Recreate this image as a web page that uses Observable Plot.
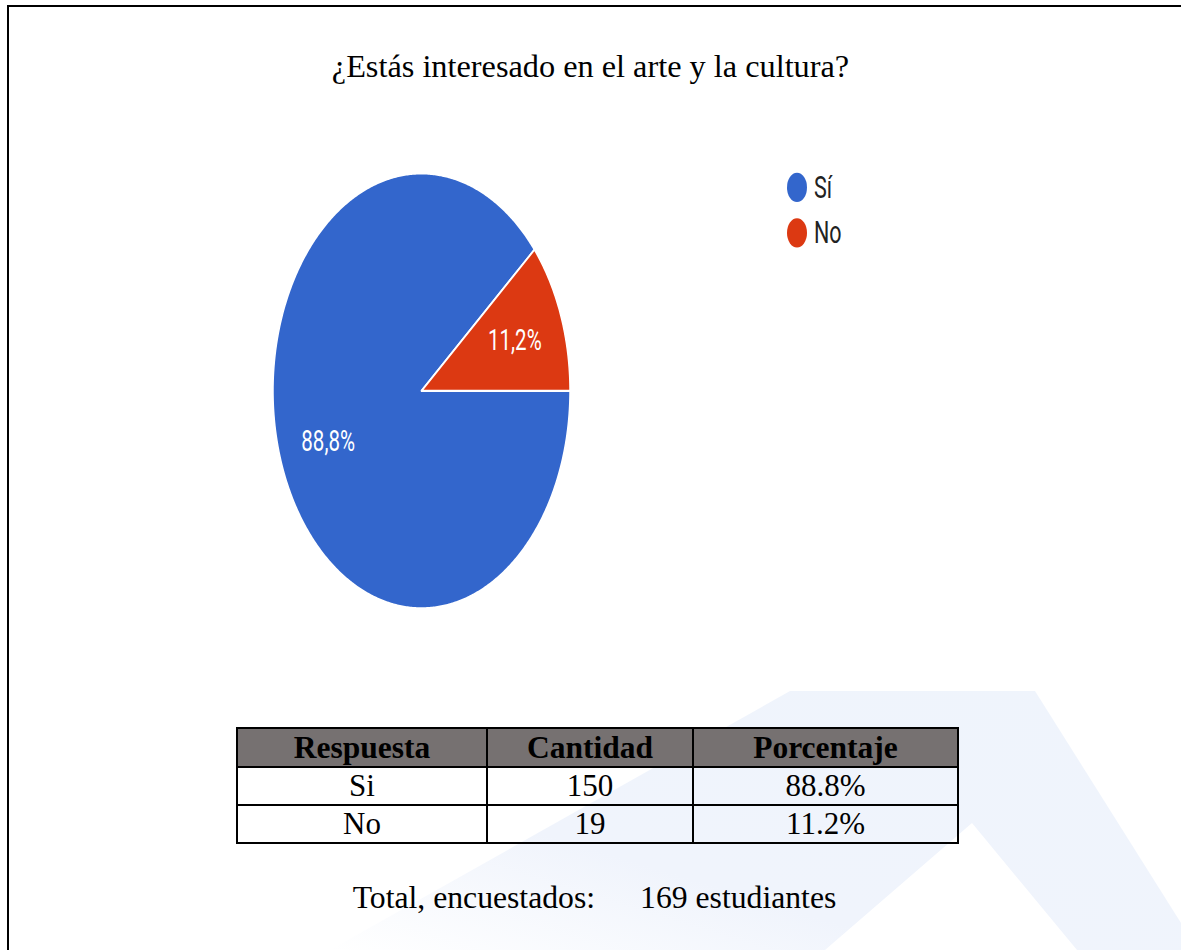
<!DOCTYPE html>
<html>
<head>
<meta charset="utf-8">
<script src="https://cdn.jsdelivr.net/npm/d3@7"></script>
<script src="https://cdn.jsdelivr.net/npm/@observablehq/plot@0.6"></script>
<style>
  html, body { margin: 0; padding: 0; background: #fff; }
  #page { position: relative; width: 1181px; height: 950px; overflow: hidden; background: #fff; }
  .abs { position: absolute; }
  #title { left: 0; width: 1181px; top: 48px; text-align: center; font-family: "Liberation Serif", "Times New Roman", serif; font-size: 32.3px; color: #000; white-space: nowrap; }
  #chart svg { overflow: visible; }
  #legend { left: 787px; top: 163.8px; transform: scaleY(1.4646); transform-origin: top left; font-family: Roboto, sans-serif; font-size: 21.5px; color: #222; }
  .lg-item { display: flex; align-items: center; height: 31px; }
  .lg-dot { width: 20px; height: 20px; border-radius: 50%; margin-right: 7px; }
  #tbl { left: 236px; top: 727px; border-collapse: collapse; font-family: "Liberation Serif", "Times New Roman", serif; font-size: 31px; color: #000; }
  #tbl th, #tbl td { border: 2px solid #000; text-align: center; padding: 0; line-height: 34px; }
  #tbl th { background: #767171; font-weight: bold; height: 37px; font-size: 31.5px; }
  #tbl td { height: 36px; }
  #total { left: 4px; width: 1181px; top: 880px; text-align: center; font-family: "Liberation Serif", "Times New Roman", serif; font-size: 31.7px; color: #000; white-space: nowrap; }
</style>
</head>
<body>
<div id="page">
  <svg class="abs" width="1181" height="950" style="left:0;top:0">
    <defs>
      <linearGradient id="wm" x1="0" y1="1" x2="1" y2="0">
        <stop offset="0" stop-color="#f0f4fc" stop-opacity="0"/>
        <stop offset="0.35" stop-color="#f0f4fc" stop-opacity="1"/>
        <stop offset="1" stop-color="#eff4fc" stop-opacity="1"/>
      </linearGradient>
    </defs>
    <polygon points="330,950 790,691 1035,691 1181,923 1181,950" fill="url(#wm)"/>
    <polygon points="825,950 972,823 1077,950" fill="#fff"/>
  </svg>
  <div class="abs" style="left:7px;top:5px;width:2px;height:945px;background:#000"></div>
  <div class="abs" style="left:7px;top:5px;width:1174px;height:2px;background:#000"></div>
  <div id="title" class="abs"></div>
  <div id="chart" class="abs"></div>
  <div id="legend" class="abs"></div>
  <table id="tbl" class="abs"></table>
  <div id="total" class="abs"></div>
</div>
<script>
// ---- data ----
const title = "¿Estás interesado en el arte y la cultura?";
const categories = ["Sí", "No"];
const counts = [150, 19];
const sliceLabels = ["88,8%", "11,2%"];
const colors = ["#3366cc", "#dc3912"];
const tableHeaders = ["Respuesta", "Cantidad", "Porcentaje"];
const tableAnswers = ["Si", "No"];
const tableCounts = [150, 19];
const tablePercents = ["88.8%", "11.2%"];
const totalLabel = "Total, encuestados:";
const totalValue = "169 estudiantes";

// ---- title ----
document.getElementById("title").textContent = title;

// ---- pie geometry from data (start at 3 o'clock, clockwise) ----
const sum = d3.sum(counts);
const slices = [];
const labels = [];
let cum = 0;
categories.forEach((c, i) => {
  const f = counts[i] / sum;
  const a0 = -2 * Math.PI * cum;
  const a1 = -2 * Math.PI * (cum + f);
  const n = Math.max(2, Math.ceil(f * 720));
  slices.push({cat: c, x: 0, y: 0});
  for (let k = 0; k <= n; k++) {
    const a = a0 + (a1 - a0) * k / n;
    slices.push({cat: c, x: Math.cos(a), y: Math.sin(a)});
  }
  slices.push({cat: c, x: 0, y: 0});
  const am = (a0 + a1) / 2;
  labels.push({cat: c, x: 0.67 * Math.cos(am), y: 0.67 * Math.sin(am), text: sliceLabels[i]});
  cum += f;
});

const W = 700, H = 317;
const chart = Plot.plot({
  width: W,
  height: H,
  marginLeft: 272.5,
  marginRight: W - 569.5,
  marginTop: 10,
  marginBottom: 10,
  x: {domain: [-1, 1], axis: null},
  y: {domain: [-1, 1], axis: null},
  color: {domain: categories, range: colors},
  style: {background: "transparent", overflow: "visible"},
  marks: [
    Plot.line(slices, {x: "x", y: "y", z: "cat", fill: "cat", stroke: "white", strokeWidth: 1.5, curve: "linear", strokeLinejoin: "round"}),
    Plot.text(labels, {x: "x", y: "y", text: "text", fill: "white", fontSize: 20.5, fontFamily: "Roboto, sans-serif"})
  ]
});
const chartDiv = document.getElementById("chart");
chartDiv.style.left = "0px";
chartDiv.style.top = "157.9px";
chartDiv.style.transform = "scaleY(1.4646)";
chartDiv.style.transformOrigin = "top left";
chartDiv.appendChild(chart);

// ---- legend ----
const legend = document.getElementById("legend");
categories.forEach((c, i) => {
  const item = document.createElement("div");
  item.className = "lg-item";
  const dot = document.createElement("div");
  dot.className = "lg-dot";
  dot.style.background = colors[i];
  const t = document.createElement("span");
  t.textContent = c;
  item.appendChild(dot);
  item.appendChild(t);
  legend.appendChild(item);
});

// ---- table ----
const tbl = document.getElementById("tbl");
const widths = [250, 206, 265];
const hr = document.createElement("tr");
tableHeaders.forEach((h, j) => {
  const th = document.createElement("th");
  th.textContent = h;
  th.style.width = (widths[j] - 2) + "px";
  hr.appendChild(th);
});
tbl.appendChild(hr);
tableAnswers.forEach((a, i) => {
  const tr = document.createElement("tr");
  [a, tableCounts[i], tablePercents[i]].forEach(v => {
    const td = document.createElement("td");
    td.textContent = v;
    tr.appendChild(td);
  });
  tbl.appendChild(tr);
});

// ---- total ----
const tot = document.getElementById("total");
const s1 = document.createElement("span"); s1.textContent = totalLabel;
const s2 = document.createElement("span"); s2.textContent = totalValue; s2.style.marginLeft = "45px";
tot.appendChild(s1); tot.appendChild(s2);
</script>
</body>
</html>
